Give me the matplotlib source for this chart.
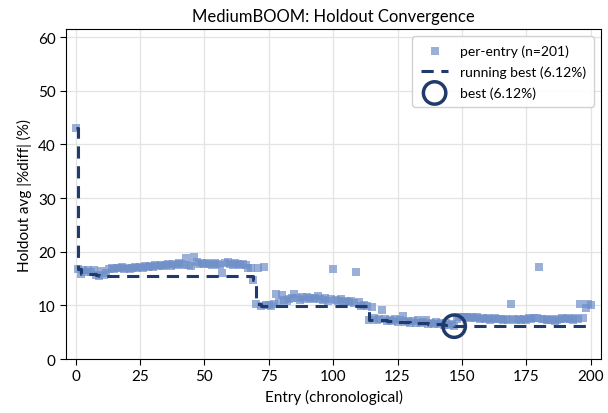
import matplotlib
matplotlib.use("Agg")
import matplotlib.pyplot as plt
import numpy as np

plt.rcParams['font.family'] = ['Lato', 'DejaVu Sans']

title = "MediumBOOM: Holdout Convergence"
xlabel = "Entry (chronological)"
ylabel = "Holdout avg |%diff| (%)"

values = [
    43.0,
    16.8, 15.8, 16.5, 16.3, 16.6, 16.2, 16.5, 15.6, 15.5, 16.4,
    15.6, 16.1, 16.7, 16.9, 16.8, 17.0, 16.9, 17.1, 16.8, 17.0,
    16.7, 17.0, 17.1, 16.9, 17.2, 17.0, 17.3, 17.1, 17.4, 17.2,
    17.5, 17.3, 17.6, 17.4, 17.5, 17.7, 17.4, 17.8, 17.6, 17.9,
    17.7, 17.5, 18.9, 17.6, 17.3, 19.1, 18.0, 17.8, 17.9, 17.7,
    17.9, 17.8, 17.6, 17.9, 17.7, 17.5, 16.1, 17.9, 18.0, 17.8,
    17.6, 17.9, 17.7, 17.5, 17.8, 17.6, 16.9, 17.0, 14.7, 10.2,
    17.0, 9.9, 17.1, 10.0, 10.1, 9.9, 10.3, 12.1, 10.6, 12.0,
    11.0, 10.8, 11.2, 11.4, 12.2, 11.3, 11.0, 11.5, 11.2, 11.6,
    11.3, 11.1, 11.4, 11.7, 11.2, 11.0, 11.3, 10.9, 11.1, 16.8,
    11.0, 10.8, 11.1, 10.7, 10.9, 10.6, 10.8, 10.5, 16.2, 10.7,
    9.8, 10.1, 9.9, 7.3, 9.7, 7.6, 7.2, 7.5, 9.1, 7.4,
    7.1, 7.3, 7.0, 7.4, 6.9, 7.2, 8.0, 6.9, 7.1, 6.8,
    7.0, 6.8, 7.2, 6.7, 6.9, 7.3, 6.6, 6.8, 6.5, 6.9,
    6.5, 6.7, 6.4, 6.8, 6.3, 6.6, 6.12, 7.5, 7.8, 7.9,
    7.8, 7.9, 7.7, 7.8, 7.6, 7.8, 7.5, 7.7, 7.4, 7.6,
    7.3, 7.5, 7.6, 7.4, 7.5, 7.3, 7.4, 7.2, 10.2, 7.4,
    7.3, 7.5, 7.2, 7.4, 7.3, 7.6, 7.5, 7.7, 7.6, 17.2,
    7.5, 7.4, 7.3, 7.2, 7.4, 7.0, 7.3, 7.5, 7.6, 7.4,
    7.6, 7.5, 7.3, 7.6, 7.4, 10.2, 7.6, 9.5, 10.2, 10.1,
]

entries = np.arange(len(values))
vals = np.array(values)
running = np.minimum.accumulate(vals)
best_i = int(np.argmin(vals))
best_v = vals[best_i]

fig = plt.figure(figsize=(6.08, 4.14), dpi=100)
ax = fig.add_axes([0.1086, 0.1304, 0.8799, 0.7971])

navy = "#1f3a6b"
ax.scatter(entries, vals, marker='s', s=28, color="#6f8fc8", alpha=0.7,
           linewidths=0, label=f"per-entry (n={len(values)})", zorder=2)
ax.step(entries, running, where='post', color=navy, linestyle=(0, (4, 2.5)),
        linewidth=2.2, label=f"running best ({best_v:.2f}%)", zorder=3)
ax.scatter([best_i], [best_v], s=260, facecolors='none', edgecolors=navy,
           linewidths=2.5, label=f"best ({best_v:.2f}%)", zorder=4)

ax.set_xlim(-3.7, 204)
ax.set_ylim(0, 61.5)
ax.set_xticks([0, 25, 50, 75, 100, 125, 150, 175, 200])
ax.set_yticks([0, 10, 20, 30, 40, 50, 60])
ax.grid(True, color="#e3e3e3", linewidth=0.9)
ax.set_axisbelow(True)
ax.tick_params(labelsize=11, length=4)
ax.set_title(title, fontsize=12)
ax.set_xlabel(xlabel, fontsize=11)
ax.set_ylabel(ylabel, fontsize=11)
leg = ax.legend(loc='upper right', fontsize=10, framealpha=0.9, edgecolor="#cccccc",
                borderpad=0.6, labelspacing=0.6)

fig.savefig("out.png", dpi=100)
